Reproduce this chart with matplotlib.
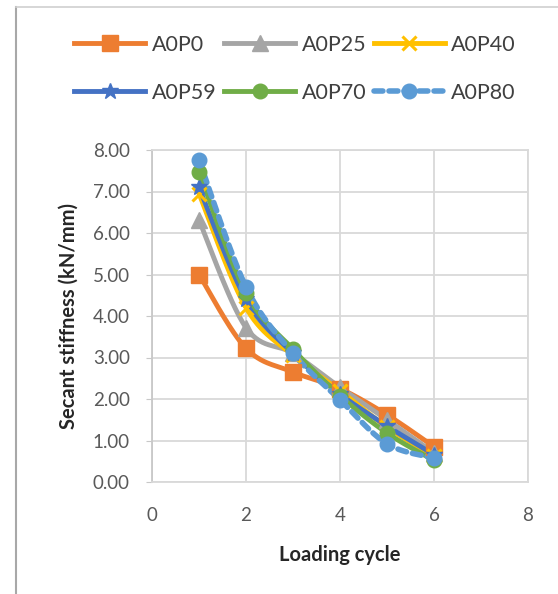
import numpy as np
import matplotlib
matplotlib.use("Agg")
import matplotlib.pyplot as plt
from matplotlib.lines import Line2D

# ---- data ----
cycles = [1, 2, 3, 4, 5, 6]
A0P0 = [5.00, 3.22, 2.65, 2.25, 1.62, 0.85]
A0P25 = [6.31, 3.72, 3.10, 2.28, 1.50, 0.70]
A0P40 = [6.95, 4.20, 3.05, 2.20, 1.32, 0.62]
A0P59 = [7.10, 4.40, 3.10, 2.12, 1.35, 0.66]
A0P70 = [7.47, 4.55, 3.20, 2.08, 1.18, 0.52]
A0P80 = [7.76, 4.70, 3.10, 1.98, 0.92, 0.58]
series_names = ["A0P0", "A0P25", "A0P40", "A0P59", "A0P70", "A0P80"]
series_vals = [A0P0, A0P25, A0P40, A0P59, A0P70, A0P80]
x_ticks = [0, 2, 4, 6, 8]
y_ticks = [0, 1, 2, 3, 4, 5, 6, 7, 8]

colors = ["#ED7D31", "#A5A5A5", "#FFC000", "#4472C4", "#70AD47", "#5B9BD5"]
markers = ["s", "^", "x", "*", "o", "o"]
msizes = [12, 11, 10, 12, 10.5, 10.5]


def smooth(x, y, n=30):
    """Excel-like smoothed curve (Bezier with Catmull-Rom control points)."""
    x = np.asarray(x, float)
    y = np.asarray(y, float)
    P = np.column_stack([x, y])
    Pe = np.vstack([P[0], P, P[-1]])
    out = []
    t = np.linspace(0, 1, n)[:, None]
    for i in range(len(P) - 1):
        p0 = Pe[i + 1]
        p3 = Pe[i + 2]
        c1 = p0 + (Pe[i + 2] - Pe[i]) / 6.0
        c2 = p3 - (Pe[i + 3] - Pe[i + 1]) / 6.0
        seg = ((1 - t) ** 3) * p0 + 3 * ((1 - t) ** 2) * t * c1 + 3 * (1 - t) * t ** 2 * c2 + t ** 3 * p3
        out.append(seg if i == 0 else seg[1:])
    S = np.vstack(out)
    return S[:, 0], S[:, 1]


plt.rcParams['font.family'] = ['Lato', 'DejaVu Sans']

fig = plt.figure(figsize=(5.58, 5.94), dpi=100)
ax = fig.add_axes([152 / 558, 1 - 482 / 594, (528 - 152) / 558, (482 - 150) / 594])

handles = []
for name, vals, c, m, ms in zip(series_names, series_vals, colors, markers, msizes):
    sx, sy = smooth(cycles, vals)
    if name == "A0P80":
        ls = (0, (1.6, 1.1))
        lw = 4.0
    else:
        ls = "-"
        lw = 3.5
    ax.plot(sx, sy, color=c, lw=lw, ls=ls, dash_capstyle="round", solid_capstyle="round", zorder=3)
    mew = 2.2 if m in ("x",) else 1.0
    ax.plot(cycles, vals, ls="none", marker=m, ms=ms, color=c, mec=c, mew=mew, zorder=4)
    handles.append(Line2D([0], [0], color=c, lw=lw, ls=ls, marker=m, ms=ms, mec=c, mew=mew,
                          dash_capstyle="round"))

ax.set_xlim(0, 8)
ax.set_ylim(0, 8)
ax.set_xticks(x_ticks)
ax.set_yticks(y_ticks)
ax.set_yticklabels([f"{v:.2f}" for v in y_ticks])
ax.grid(True, color="#D9D9D9", lw=1.3, zorder=0)
ax.set_axisbelow(True)
for s in ax.spines.values():
    s.set_color("#D9D9D9")
    s.set_linewidth(1.3)
ax.spines["left"].set_color("#C8C8C8")
ax.tick_params(axis="y", length=4, color="#C8C8C8", pad=12, labelsize=13.5, labelcolor="#595959")
ax.tick_params(axis="x", length=0, pad=18, labelsize=13.5, labelcolor="#595959")

ax.set_xlabel("Loading cycle", fontsize=14.5, fontweight="bold", color="#262626", labelpad=15)
ax.set_ylabel("Secant stiffness (kN/mm)", fontsize=14.5, fontweight="bold", color="#262626", labelpad=10)

# legend filled row by row (matplotlib fills columns first)
ncol = 3
order = [0, 3, 1, 4, 2, 5]
leg = fig.legend([handles[i] for i in order], [series_names[i] for i in order], ncol=ncol,
                 loc="center", bbox_to_anchor=(295 / 558, 1 - 69 / 594),
                 frameon=False, fontsize=15.5, handlelength=3.3, handletextpad=0.3, columnspacing=0.35,
                 labelspacing=1.3, borderaxespad=0)
for t in leg.get_texts():
    t.set_color("#404040")

# outer chart border (left and top)
fig.add_artist(Line2D([16 / 558, 16 / 558], [0, 1 - 7 / 594], color="#A8A8A8", lw=1.5))
fig.add_artist(Line2D([16 / 558, 1], [1 - 7 / 594, 1 - 7 / 594], color="#D0D0D0", lw=1.2))

fig.savefig("out.png", dpi=100)
